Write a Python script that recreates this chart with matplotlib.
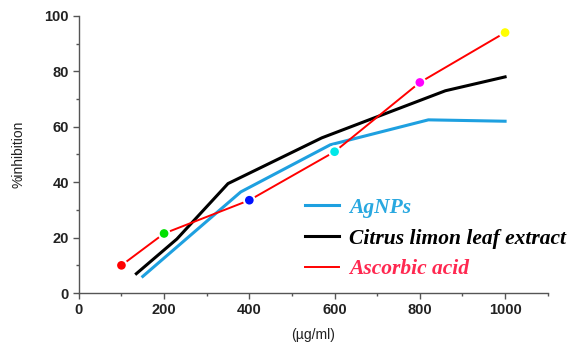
import matplotlib.pyplot as plt
from matplotlib.ticker import MultipleLocator

# AgNPs
ag_x = [150, 380, 590, 820, 1000]
ag_y = [6, 36.5, 53.5, 62.5, 62]
# Citrus limon leaf extract
cl_x = [135, 230, 350, 570, 860, 1000]
cl_y = [7, 19.5, 39.5, 56, 73, 78]
# Ascorbic acid
aa_x = [100, 200, 400, 600, 800, 1000]
aa_y = [10, 21.5, 33.5, 51, 76, 94]
aa_marker_colors = ['red', '#00e000', '#0010ff', '#00e8e8', '#ff00ff', '#ffff00']

labels = ['AgNPs', 'Citrus limon leaf extract', 'Ascorbic acid']
label_colors = ['#29a8e0', 'black', '#ff2850']

fig = plt.figure(figsize=(5.67, 3.46), dpi=100)
fig.set_facecolor('white')
ax = fig.add_axes([0.139, 0.153, 0.827, 0.801])

l1, = ax.plot(ag_x, ag_y, color='#1ea0e0', lw=2.2)
l2, = ax.plot(cl_x, cl_y, color='black', lw=2.2)
l3, = ax.plot(aa_x, aa_y, color='red', lw=1.4)
ax.scatter(aa_x, aa_y, c=aa_marker_colors, s=60, edgecolors='white',
           linewidths=1.5, zorder=3)

ax.set_xlim(0, 1100)
ax.set_ylim(0, 100)
ax.xaxis.set_major_locator(MultipleLocator(200))
ax.xaxis.set_minor_locator(MultipleLocator(100))
ax.yaxis.set_major_locator(MultipleLocator(20))
ax.yaxis.set_minor_locator(MultipleLocator(10))
ax.set_xticks([0, 200, 400, 600, 800, 1000])

for s in ['top', 'right']:
    ax.spines[s].set_visible(False)
for s in ['left', 'bottom']:
    ax.spines[s].set_color('#555555')
    ax.spines[s].set_linewidth(1.0)

ax.tick_params(which='major', direction='out', length=4, width=1, color='#555555',
               labelsize=10.5, pad=3)
ax.tick_params(which='minor', direction='out', length=2.5, width=1, color='#555555')
for t in ax.get_xticklabels() + ax.get_yticklabels():
    t.set_fontweight('bold')
    t.set_family('Liberation Sans')
    t.set_color('#222222')

ax.set_xlabel('(µg/ml)', fontsize=10, family='Liberation Sans', color='#222222',
              labelpad=8)
ax.set_ylabel('%inhibition', fontsize=10, family='Liberation Sans', color='#222222',
              labelpad=14)

leg = ax.legend([l1, l2, l3], labels, loc='upper left', bbox_to_anchor=(0.463, 0.375),
                frameon=False, handlelength=1.58, handletextpad=0.47,
                labelspacing=0.5, borderaxespad=0,
                prop={'family': 'Liberation Serif', 'style': 'italic',
                      'weight': 'bold', 'size': 15.5})
for t, c in zip(leg.get_texts(), label_colors):
    t.set_color(c)

plt.savefig('out.png', dpi=100)
